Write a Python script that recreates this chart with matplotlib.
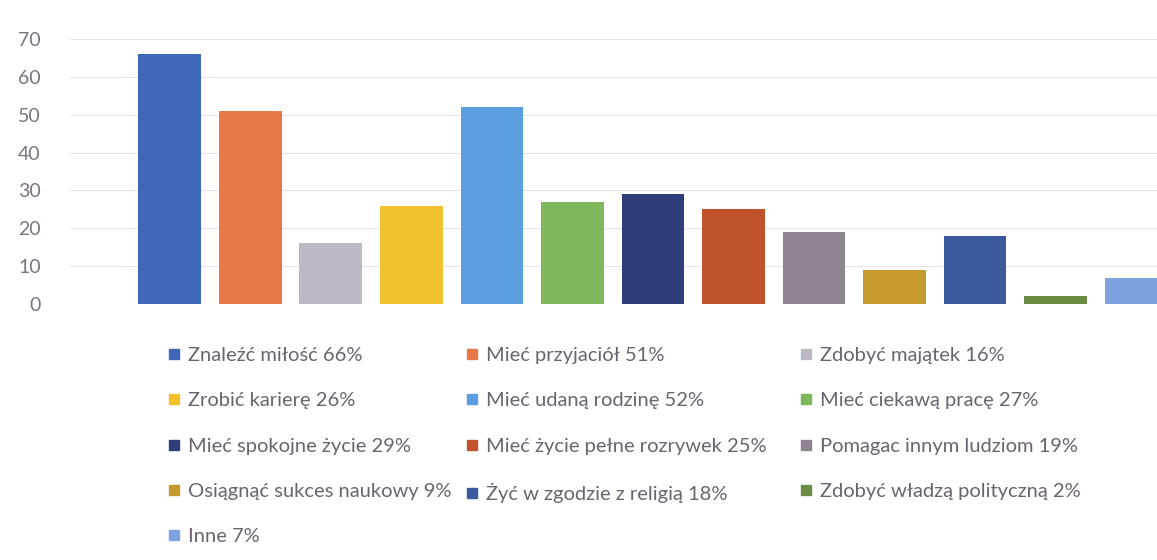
import matplotlib.pyplot as plt
from matplotlib.lines import Line2D

labels = ["Znaleźć miłość", "Mieć przyjaciół", "Zdobyć majątek", "Zrobić karierę",
          "Mieć udaną rodzinę", "Mieć ciekawą pracę", "Mieć spokojne życie",
          "Mieć życie pełne rozrywek", "Pomagac innym ludziom", "Osiągnąć sukces naukowy",
          "Żyć w zgodzie z religią", "Zdobyć władzą polityczną", "Inne"]
values = [66, 51, 16, 26, 52, 27, 29, 25, 19, 9, 18, 2, 7]
colors = ["#3f67b8", "#e8784a", "#bdb8c2", "#f2c12e", "#5b9fe0", "#7fb85c", "#2f3d7a",
          "#c0532e", "#8e8590", "#c49a2c", "#3b5a9c", "#6c8c45", "#7ea2de"]

plt.rcParams['font.family'] = ['Lato', 'DejaVu Sans']
txt = "#6b6370"

fig = plt.figure(figsize=(11.57, 5.6), dpi=100)
ax = fig.add_axes([70 / 1157, 1 - 304 / 560, 1 - 70 / 1157, 265 / 560])

x = list(range(len(values)))
ax.bar(x, values, width=0.78, color=colors, zorder=2)
ax.set_xlim(-1.24, 12.26)
ax.set_ylim(0, 70)
ax.set_yticks(range(0, 71, 10))
ax.set_xticks([])
ax.grid(axis='y', color='#e6e4e8', linewidth=0.8, zorder=0)
for s in ax.spines.values():
    s.set_visible(False)
ax.tick_params(axis='y', length=0, pad=21, labelsize=14, labelcolor="#7a7380")

# legend: three columns, filled row by row
col_x = [168 / 1157, 466 / 1157, 800 / 1157]
for c in range(3):
    idx = list(range(c, len(values), 3))
    handles = [Line2D([], [], marker='s', linestyle='none', markersize=7,
                      color=colors[i]) for i in idx]
    names = [f"{labels[i]} {values[i]}%" for i in idx]
    fig.legend(handles, names, loc='upper left', bbox_to_anchor=(col_x[c], 1 - 347 / 560),
               frameon=False, fontsize=14.5, labelcolor=txt, handlelength=0.6,
               handletextpad=0.4, borderpad=0, borderaxespad=0, labelspacing=1.4)

fig.savefig('out.png', dpi=100)
